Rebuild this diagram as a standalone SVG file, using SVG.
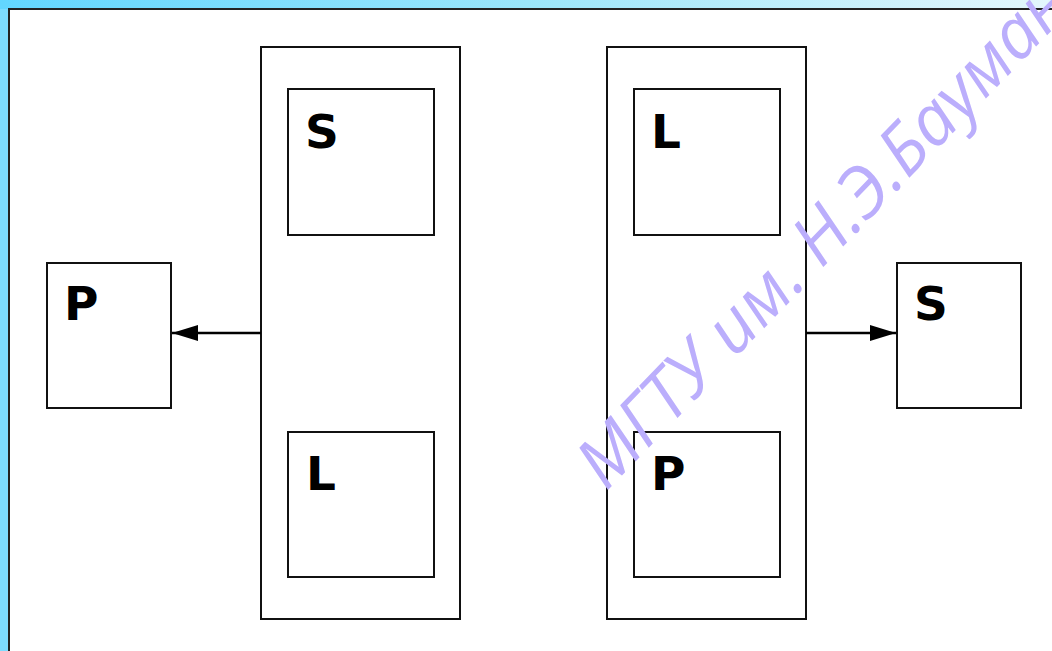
<svg xmlns="http://www.w3.org/2000/svg" width="1052" height="651" viewBox="0 0 1052 651">
<defs>
<linearGradient id="bg" x1="0" y1="0" x2="1" y2="0">
<stop offset="0" stop-color="#62d6ff"/>
<stop offset="0.5" stop-color="#9be6fb"/>
<stop offset="1" stop-color="#e4f7fc"/>
</linearGradient>
<marker id="ah" markerWidth="26" markerHeight="16" refX="26" refY="8" orient="auto" markerUnits="userSpaceOnUse">
<path d="M0,0 L26,8 L0,16 Z" fill="#000"/>
</marker>
<style>
.box{fill:#fff;stroke:#111;stroke-width:2}
.lbl{font-family:"DejaVu Sans",Verdana,sans-serif;font-weight:bold;font-size:47px;fill:#000}
.con{stroke:#000;stroke-width:2.5;fill:none}
.wm{font-family:"Open Sans","Noto Sans",sans-serif;font-style:italic;font-size:70px;fill:#bbaefc}
</style>
</defs>
<rect x="0" y="0" width="1052" height="651" fill="url(#bg)"/>
<rect x="0" y="9" width="9" height="642" fill="#7ddcff"/>
<rect x="9" y="9" width="1060" height="660" fill="#fff" stroke="#222" stroke-width="2"/>
<g id="left-container"><rect class="box" x="261" y="47" width="199" height="572"/></g>
<g id="right-container"><rect class="box" x="607" y="47" width="199" height="572"/></g>
<g id="left-P"><rect class="box" x="47" y="263" width="124" height="145"/><text class="lbl" x="64" y="320">P</text></g>
<g id="left-S"><rect class="box" x="288" y="89" width="146" height="146"/><text class="lbl" x="305" y="148">S</text></g>
<g id="left-L"><rect class="box" x="288" y="432" width="146" height="145"/><text class="lbl" x="306" y="490">L</text></g>
<g id="right-L"><rect class="box" x="634" y="89" width="146" height="146"/><text class="lbl" x="651" y="148">L</text></g>
<g id="right-P"><rect class="box" x="634" y="432" width="146" height="145"/><text class="lbl" x="651" y="490">P</text></g>
<g id="right-S"><rect class="box" x="897" y="263" width="124" height="145"/><text class="lbl" x="914" y="320">S</text></g>
<g id="connectors">
<line class="con" x1="261" y1="333" x2="172" y2="333" marker-end="url(#ah)"/>
<line class="con" x1="806" y1="333" x2="896" y2="333" marker-end="url(#ah)"/>
</g>
<text class="wm" transform="translate(606,492) rotate(-46)">МГТУ им. Н.Э.Баумана</text>
</svg>
